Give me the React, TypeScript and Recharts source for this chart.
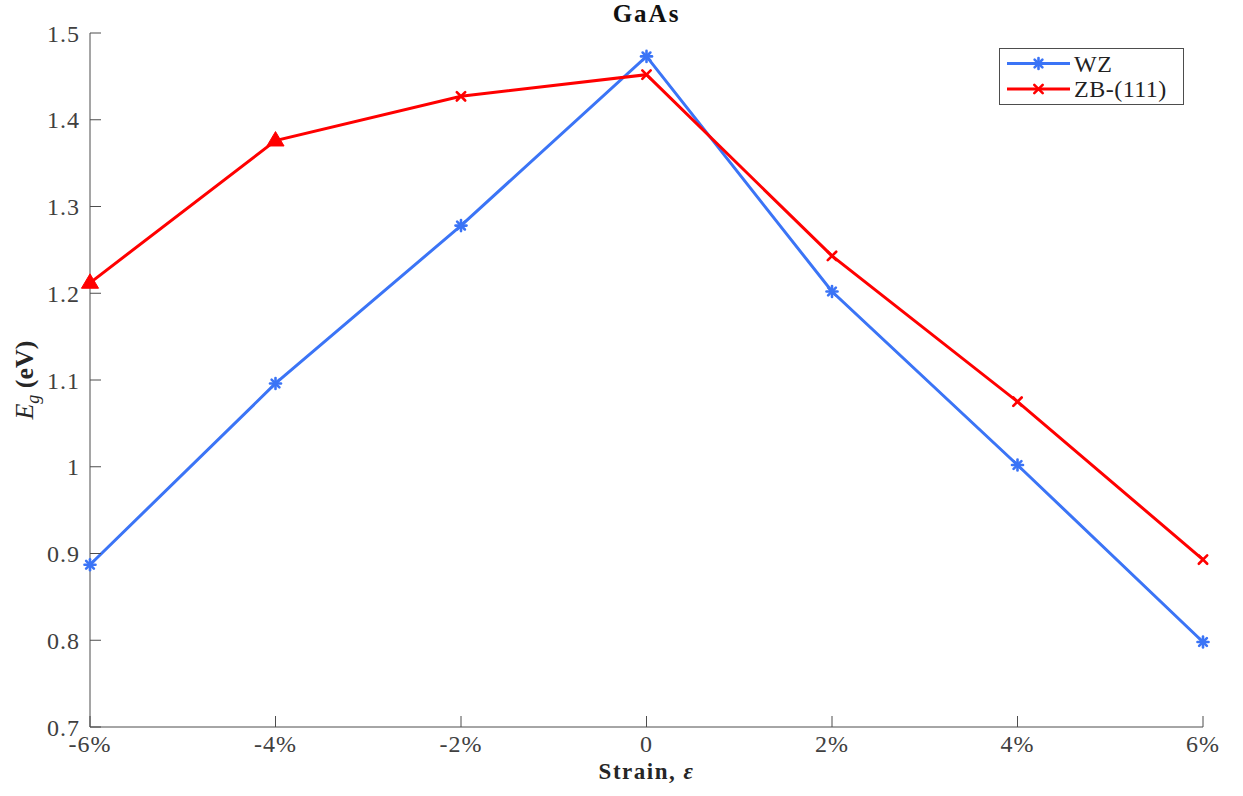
import React from 'react';
import { LineChart, Line, XAxis, YAxis, Legend, Label } from 'recharts';

const strains = [-6, -4, -2, 0, 2, 4, 6];
const wzGap = [0.887, 1.096, 1.278, 1.473, 1.202, 1.002, 0.798];
const zbGap = [1.212, 1.376, 1.427, 1.452, 1.243, 1.075, 0.893];
const zbTriangleStrains = [-6, -4];
const xTicks = [-6, -4, -2, 0, 2, 4, 6];
const yTicks = [0.7, 0.8, 0.9, 1.0, 1.1, 1.2, 1.3, 1.4, 1.5];
const seriesNames = ['WZ', 'ZB-(111)'];
const titleText = 'GaAs';

const data = strains.map((s, i) => ({ strain: s, wz: wzGap[i], zb: zbGap[i] }));

const BLUE = '#3b74f6';
const RED = '#ff0000';
const AXIS = '#4d4d4d';
const TEXT = '#404040';
const FONT = 'Liberation Serif, Times New Roman, serif';

const fmtX = (v: number) => (v === 0 ? '0' : `${v}%`);
const fmtY = (v: number) => String(Number(v.toFixed(1)));

const Asterisk = ({ cx, cy, color }: { cx: number; cy: number; color: string }) => {
  const r = 5.5;
  const d = r * 0.7071;
  return (
    <g stroke={color} strokeWidth={2.6} strokeLinecap="round">
      <line x1={cx - r} y1={cy} x2={cx + r} y2={cy} />
      <line x1={cx} y1={cy - r} x2={cx} y2={cy + r} />
      <line x1={cx - d} y1={cy - d} x2={cx + d} y2={cy + d} />
      <line x1={cx - d} y1={cy + d} x2={cx + d} y2={cy - d} />
    </g>
  );
};

const Cross = ({ cx, cy, color }: { cx: number; cy: number; color: string }) => {
  const r = 4.2;
  return (
    <g stroke={color} strokeWidth={2.6} strokeLinecap="round">
      <line x1={cx - r} y1={cy - r} x2={cx + r} y2={cy + r} />
      <line x1={cx - r} y1={cy + r} x2={cx + r} y2={cy - r} />
    </g>
  );
};

const Triangle = ({ cx, cy, color }: { cx: number; cy: number; color: string }) => {
  const r = 9;
  return (
    <polygon
      points={`${cx},${cy - r} ${cx + r * 0.95},${cy + r * 0.6} ${cx - r * 0.95},${cy + r * 0.6}`}
      fill={color}
      stroke={color}
      strokeWidth={1}
    />
  );
};

const wzDot = (props: any) => {
  const { cx, cy, index } = props;
  return <Asterisk key={`wz-${index}`} cx={cx} cy={cy} color={BLUE} />;
};

const zbDot = (props: any) => {
  const { cx, cy, index, payload } = props;
  if (zbTriangleStrains.includes(payload.strain)) {
    return <Triangle key={`zb-${index}`} cx={cx} cy={cy} color={RED} />;
  }
  return <Cross key={`zb-${index}`} cx={cx} cy={cy} color={RED} />;
};

const LegendBox = () => (
  <svg width={186} height={58} style={{ display: 'block' }}>
    <rect x={0.5} y={0.5} width={184} height={56} fill="#fff" stroke={AXIS} strokeWidth={1} />
    <line x1={8} y1={15.5} x2={71} y2={15.5} stroke={BLUE} strokeWidth={3} />
    <Asterisk cx={39.5} cy={15.5} color={BLUE} />
    <text x={75} y={23.5} fontFamily={FONT} fontSize={24} letterSpacing={0.5} fill="#222">{seriesNames[0]}</text>
    <line x1={8} y1={41} x2={71} y2={41} stroke={RED} strokeWidth={3} />
    <Cross cx={39.5} cy={41} color={RED} />
    <text x={75} y={49} fontFamily={FONT} fontSize={24} letterSpacing={0.5} fill="#222">{seriesNames[1]}</text>
  </svg>
);

const tickStyle = { fill: TEXT, fontSize: 24, fontFamily: FONT, letterSpacing: 1 };

export default function App() {
  return (
    <div style={{ position: 'absolute', left: 0, top: 0, background: '#fff' }}>
      <LineChart width={1243} height={796} data={data} margin={{ top: 33, right: 40, bottom: 0, left: 0 }}>
        <XAxis
          xAxisId="b"
          dataKey="strain"
          type="number"
          domain={[-6, 6]}
          ticks={xTicks}
          orientation="bottom"
          height={69}
          tickSize={-11}
          tickMargin={19}
          tick={tickStyle}
          tickFormatter={fmtX}
          stroke={AXIS}
          interval={0}
        >
          <Label
            content={(p: any) => {
              const vb = p.viewBox;
              const cx = vb.x + vb.width / 2;
              return (
                <g>
                  <text
                    x={cx}
                    y={vb.y + 52}
                    textAnchor="middle"
                    fontFamily={FONT}
                    fontSize={23}
                    fontWeight="bold"
                    letterSpacing={1.5}
                    fill="#262626"
                  >
                    Strain, <tspan fontStyle="italic">ε</tspan>
                  </text>
                  <text
                    x={cx}
                    y={22}
                    textAnchor="middle"
                    fontFamily={FONT}
                    fontSize={25}
                    fontWeight="bold"
                    letterSpacing={2}
                    fill="#111"
                  >
                    {titleText}
                  </text>
                </g>
              );
            }}
          />
        </XAxis>
        <XAxis
          xAxisId="t"
          dataKey="strain"
          type="number"
          domain={[-6, 6]}
          ticks={xTicks}
          orientation="top"
          height={0}
          tickSize={-11}
          tickFormatter={() => ''}
          stroke={AXIS}
          interval={0}
        />
        <YAxis
          yAxisId="l"
          type="number"
          domain={[0.7, 1.5]}
          ticks={yTicks}
          orientation="left"
          width={90}
          tickSize={-11}
          tickMargin={21}
          tick={tickStyle}
          tickFormatter={fmtY}
          stroke={AXIS}
          interval={0}
        >
          <Label
            content={(p: any) => {
              const vb = p.viewBox;
              const cx = 33;
              const cy = vb.y + vb.height / 2;
              return (
                <text
                  x={cx}
                  y={cy}
                  transform={`rotate(-90, ${cx}, ${cy})`}
                  textAnchor="middle"
                  fontFamily={FONT}
                  fontSize={26}
                  fill="#262626"
                >
                  <tspan fontStyle="italic">E</tspan>
                  <tspan fontStyle="italic" fontSize={18} dy={6}>g</tspan>
                  <tspan fontWeight="bold" dy={-6}> (eV)</tspan>
                </text>
              );
            }}
          />
        </YAxis>
        <YAxis
          yAxisId="r"
          type="number"
          domain={[0.7, 1.5]}
          ticks={yTicks}
          orientation="right"
          width={0}
          tickSize={-11}
          tickFormatter={() => ''}
          stroke={AXIS}
          interval={0}
        />
        <Legend
          layout="vertical"
          align="center"
          verticalAlign="middle"
          content={() => <LegendBox />}
          wrapperStyle={{ position: 'absolute', left: 999, top: 48, width: 186, height: 58 }}
        />
        <Line
          xAxisId="b"
          yAxisId="l"
          dataKey="wz"
          name={seriesNames[0]}
          stroke={BLUE}
          strokeWidth={3}
          dot={wzDot}
          activeDot={false}
          isAnimationActive={false}
        />
        <Line
          xAxisId="b"
          yAxisId="l"
          dataKey="zb"
          name={seriesNames[1]}
          stroke={RED}
          strokeWidth={3}
          dot={zbDot}
          activeDot={false}
          isAnimationActive={false}
        />
      </LineChart>
    </div>
  );
}
